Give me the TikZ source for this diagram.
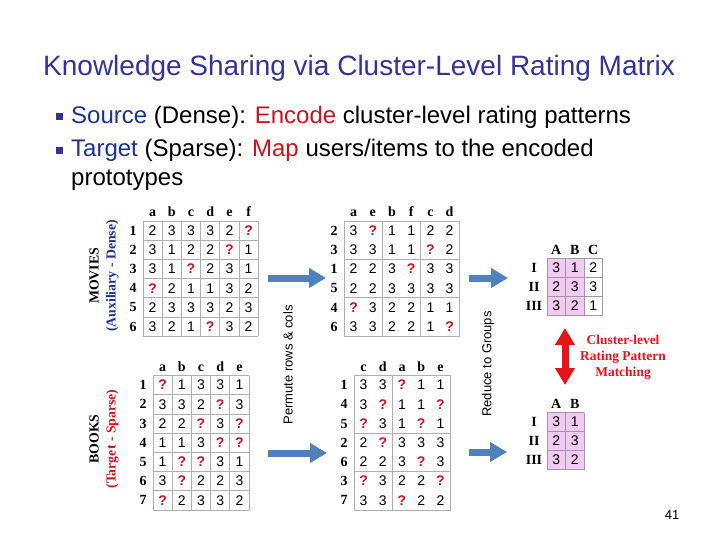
\documentclass[tikz,border=0pt]{standalone}
\usepackage{fontspec}
\setmainfont{Liberation Sans}
\newfontfamily\timesfont{Liberation Serif}
\usetikzlibrary{arrows.meta}

\definecolor{titleblue}{RGB}{51,51,153}
\definecolor{srcblue}{RGB}{25,50,150}
\definecolor{encred}{RGB}{200,20,30}
\definecolor{qred}{RGB}{200,20,30}
\definecolor{gridgray}{RGB}{175,175,175}
\definecolor{arrowblue}{RGB}{79,129,189}
\definecolor{matchred}{RGB}{228,20,25}
\definecolor{protopink}{RGB}{242,202,242}
\definecolor{protogray}{RGB}{160,150,170}

\newcommand{\miss}{\textbf{\textcolor{qred}{?}}}

% cells of a rating matrix: name, left, top, cell width, cell height, rows
\newcommand{\fillmatrix}[6]{%
  \foreach \vals [count=\i] in {#6} {
    \foreach \v [count=\j] in \vals
      \node[cell] (#1-\i-\j) at ({#2+(\j-0.5)*#4},{#3+(\i-0.5)*#5}) {\v};
  }
}

\tikzset{
  cell/.style={inner sep=0pt, font=\fontsize{14}{14}\selectfont},
  colhead/.style={anchor=base, inner sep=0pt, font=\timesfont\bfseries\fontsize{14}{14}\selectfont},
  rowhead/.style={inner sep=0pt, font=\timesfont\bfseries\fontsize{14}{14}\selectfont},
  sidelabel/.style={rotate=90, inner sep=0pt, align=center, font=\timesfont\bfseries\fontsize{13.8}{17}\selectfont},
  steplabel/.style={rotate=90, inner sep=0pt, font=\fontsize{13}{13}\selectfont},
  gridline/.style={draw=gridgray, line width=0.7pt},
  protoline/.style={draw=protogray, line width=0.7pt},
  blockarrow/.style={draw=arrowblue, line width=7pt, -{Triangle[length=17pt,width=19pt]}},
  matcharrow/.style={draw=matchred, line width=7pt, {Triangle[length=17pt,width=19pt]}-{Triangle[length=17pt,width=19pt]}},
  bulletbox/.style={rectangle, fill=titleblue, minimum size=7pt, inner sep=0pt},
  bullettext/.style={anchor=base west, inner sep=0pt, font=\fontsize{24}{29}\selectfont},
}

\begin{document}
\begin{tikzpicture}[x=1pt,y=-1pt]
  \useasboundingbox (0,0) rectangle (720,540);

  % title and bullets
  \node[anchor=base west, inner sep=0pt, font=\fontsize{28}{34}\selectfont, text=titleblue] (title) at (43,76)
    {Knowledge Sharing via Cluster-Level Rating Matrix};
  \node[bulletbox] (bul1) at (59,117) {};
  \node[bulletbox] (bul2) at (59,151) {};
  \node[bullettext] (line1) at (71,124)
    {\textcolor{srcblue}{Source} (Dense): \textcolor{encred}{Encode} cluster-level rating patterns};
  \node[bullettext] (line2) at (71,157)
    {\textcolor{srcblue}{Target} (Sparse): \textcolor{encred}{Map} users/items to the encoded};
  \node[bullettext] (line3) at (71,186) {prototypes};

  % side labels
  \node[sidelabel] (movies) at (104,276) {MOVIES\\\textcolor{srcblue}{(Auxiliary - Dense)}};
  \node[sidelabel] (books)  at (104,439) {BOOKS\\\textcolor{qred}{(Target - Sparse)}};

  % movies matrix
  \foreach \k in {0,...,6} {
    \draw[gridline] ({143+\k*19.2},221) -- ({143+\k*19.2},336.2);
    \draw[gridline] (143,{221+\k*19.2}) -- (258.2,{221+\k*19.2});
  }
  \foreach \h [count=\j] in {a,b,c,d,e,f}
    \node[colhead] (mvh-\j) at ({143+(\j-0.5)*19.2},217) {\h};
  \foreach \h [count=\i] in {1,...,6}
    \node[rowhead] (mvr-\i) at (133,{221+(\i-0.5)*19.2}) {\h};
  \fillmatrix{mv}{143}{221}{19.2}{19.2}{{2,3,3,3,2,\miss},{3,1,2,2,\miss,1},{3,1,\miss,2,3,1},
    {\miss,2,1,1,3,2},{2,3,3,3,2,3},{3,2,1,\miss,3,2}}

  % movies matrix, permuted
  \draw[gridline] (344,221) rectangle (459.2,336.2);
  \draw[gridline] (382.4,221) -- (382.4,336.2);
  \draw[gridline] (420.8,221) -- (420.8,336.2);
  \draw[gridline] (344,259.4) -- (459.2,259.4);
  \draw[gridline] (344,297.8) -- (459.2,297.8);
  \foreach \h [count=\j] in {a,e,b,f,c,d}
    \node[colhead] (mph-\j) at ({344+(\j-0.5)*19.2},217) {\h};
  \foreach \h [count=\i] in {2,3,1,5,4,6}
    \node[rowhead] (mpr-\i) at (334,{221+(\i-0.5)*19.2}) {\h};
  \fillmatrix{mp}{344}{221}{19.2}{19.2}{{3,\miss,1,1,2,2},{3,3,1,1,\miss,2},{2,2,3,\miss,3,3},
    {2,2,3,3,3,3},{\miss,3,2,2,1,1},{3,3,2,2,1,\miss}}

  % books matrix
  \foreach \k in {0,...,5}
    \draw[gridline] ({153+\k*19.2},375.5) -- ({153+\k*19.2},509.9);
  \foreach \k in {0,...,7}
    \draw[gridline] (153,{375.5+\k*19.2}) -- (249,{375.5+\k*19.2});
  \foreach \h [count=\j] in {a,b,c,d,e}
    \node[colhead] (bkh-\j) at ({153+(\j-0.5)*19.2},371.5) {\h};
  \foreach \h [count=\i] in {1,...,7}
    \node[rowhead] (bkr-\i) at (143,{375.5+(\i-0.5)*19.2}) {\h};
  \fillmatrix{bk}{153}{375.5}{19.2}{19.2}{{\miss,1,3,3,1},{3,3,2,\miss,3},{2,2,\miss,3,\miss},
    {1,1,3,\miss,\miss},{1,\miss,\miss,3,1},{3,\miss,2,2,3},{\miss,2,3,3,2}}

  % books matrix, permuted
  \draw[gridline] (354,375.5) rectangle (450,509.9);
  \draw[gridline] (392.4,375.5) -- (392.4,509.9);
  \draw[gridline] (354,433.1) -- (450,433.1);
  \draw[gridline] (354,471.5) -- (450,471.5);
  \foreach \h [count=\j] in {c,d,a,b,e}
    \node[colhead] (bph-\j) at ({354+(\j-0.5)*19.2},371.5) {\h};
  \foreach \h [count=\i] in {1,4,5,2,6,3,7}
    \node[rowhead] (bpr-\i) at (344,{375.5+(\i-0.5)*19.2}) {\h};
  \fillmatrix{bp}{354}{375.5}{19.2}{19.2}{{3,3,\miss,1,1},{3,\miss,1,1,\miss},{\miss,3,1,\miss,1},
    {2,\miss,3,3,3},{2,2,3,\miss,3},{\miss,3,2,2,\miss},{3,3,\miss,2,2}}

  % cluster-level matrices
  \fill[protopink] (547,258.5) rectangle (584,315.5);
  \fill[protopink] (547,412.5) rectangle (584,469.5);
  \foreach \k in {0,...,3} {
    \draw[protoline] ({547+\k*18.5},258.5) -- ({547+\k*18.5},315.5);
    \draw[protoline] (547,{258.5+\k*19}) -- (602.5,{258.5+\k*19});
  }
  \foreach \k in {0,...,2} {
    \draw[protoline] ({547+\k*18.5},412.5) -- ({547+\k*18.5},469.5);
  }
  \foreach \k in {0,...,3} {
    \draw[protoline] (547,{412.5+\k*19}) -- (584,{412.5+\k*19});
  }
  \foreach \h [count=\j] in {A,B,C}
    \node[colhead] (cth-\j) at ({547+(\j-0.5)*18.5},254.5) {\h};
  \foreach \h [count=\j] in {A,B}
    \node[colhead] (cbh-\j) at ({547+(\j-0.5)*18.5},408.5) {\h};
  \foreach \h [count=\i] in {I,II,III} {
    \node[rowhead] (ctr-\i) at (534,{258.5+(\i-0.5)*19}) {\h};
    \node[rowhead] (cbr-\i) at (534,{412.5+(\i-0.5)*19}) {\h};
  }
  \fillmatrix{ct}{547}{258.5}{18.5}{19}{{3,1,2},{2,3,3},{3,2,1}}
  \fillmatrix{cb}{547}{412.5}{18.5}{19}{{3,1},{2,3},{3,2}}

  % arrows
  \coordinate (mv-out) at (268,278);
  \coordinate (mp-in)  at (326,278);
  \coordinate (mp-out) at (469,278);
  \coordinate (ct-in)  at (508,278);
  \coordinate (bk-out) at (268,453);
  \coordinate (bp-in)  at (327,453);
  \coordinate (bp-out) at (469,452);
  \coordinate (cb-in)  at (507,452);
  \draw[blockarrow] (mv-out) -- (mp-in);
  \draw[blockarrow] (mp-out) -- (ct-in);
  \draw[blockarrow] (bk-out) -- (bp-in);
  \draw[blockarrow] (bp-out) -- (cb-in);
  \coordinate (match-top) at (565,328);
  \coordinate (match-bot) at (565,385);
  \draw[matcharrow] (match-top) -- (match-bot);

  % step labels
  \node[steplabel] (permute) at (288,365) {Permute rows \& cols};
  \node[steplabel] (reduce)  at (488,364) {Reduce to Groups};
  \node[align=center, inner sep=0pt, text=matchred, font=\timesfont\bfseries\fontsize{13.5}{16}\selectfont]
    (matching) at (623,357) {Cluster-level\\Rating Pattern\\Matching};

  % page number
  \node[inner sep=0pt, font=\fontsize{13}{13}\selectfont] (page) at (672,515) {41};
\end{tikzpicture}
\end{document}
